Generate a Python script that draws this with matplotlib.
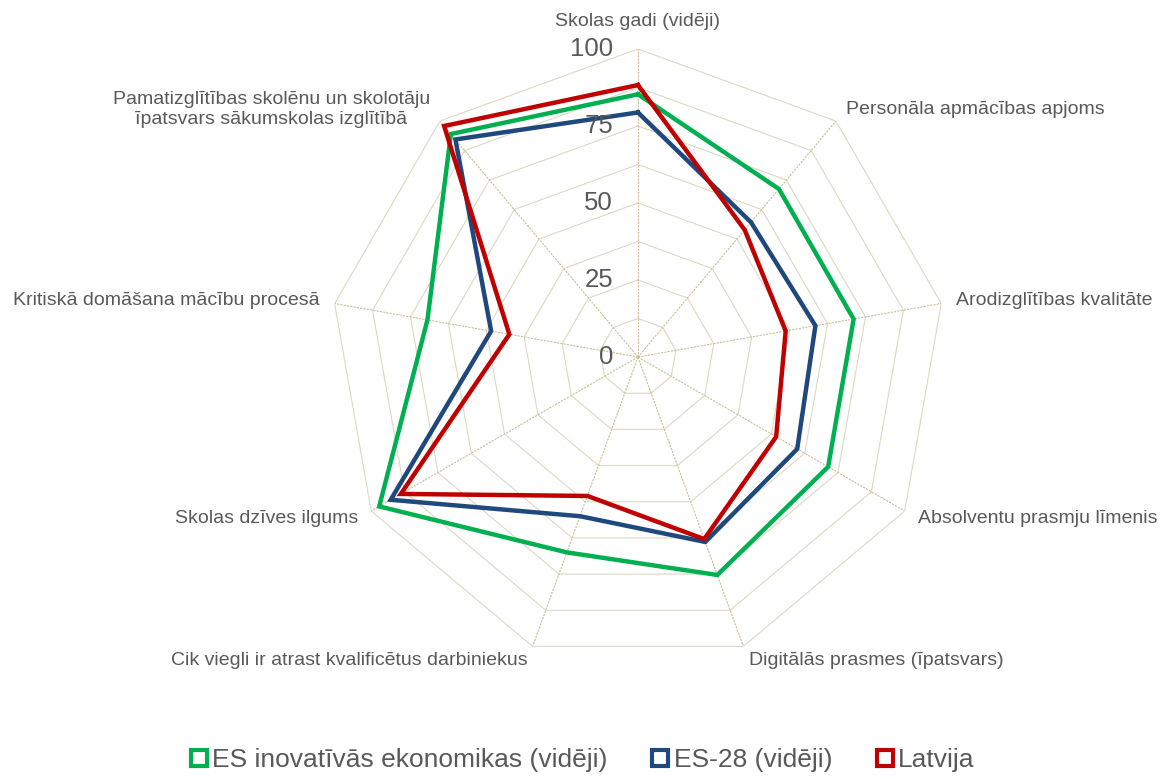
import numpy as np
import matplotlib
matplotlib.use("Agg")
import matplotlib.pyplot as plt
from matplotlib.lines import Line2D

"""
DATA
"""
categories = ['Skolas gadi (vidēji)',
              'Personāla apmācības apjoms',
              'Arodizglītības kvalitāte',
              'Absolventu prasmju līmenis',
              'Digitālās prasmes (īpatsvars)',
              'Cik viegli ir atrast kvalificētus darbiniekus',
              'Skolas dzīves ilgums',
              'Kritiskā domāšana mācību procesā',
              'Pamatizglītības skolēnu un skolotāju\nīpatsvars sākumskolas izglītībā']

es_inov = [85.3, 71.2, 71.1, 71.3, 75.3, 67.5, 97.0, 69.4, 94.5]
es_28 = [79.4, 57.1, 58.5, 59.7, 63.9, 55.0, 92.7, 48.4, 92.2]
latvija = [88.3, 53.9, 48.7, 51.8, 62.9, 48.0, 88.9, 42.4, 97.9]

series_names = ['ES inovatīvās ekonomikas (vidēji)', 'ES-28 (vidēji)', 'Latvija']
series_colors = ['#00b050', '#1f497d', '#c00000']
radial_ticks = [0, 25, 50, 75, 100]

"""
CONFIGURATION
"""
plt.rcParams['font.family'] = ['Liberation Sans', 'DejaVu Sans']
txt_color = '#595959'
ring_color = '#ddd8c2'
spoke_color = '#cbbf98'


def main():
    fig = plt.figure(figsize=(11.63, 7.79), dpi=100)
    ax = fig.add_axes([0.2837, 0.1463, 0.5297, 0.7908], projection='polar')
    ax.set_theta_zero_location('N')
    ax.set_theta_direction(-1)
    ax.set_ylim(0, 100)
    ax.grid(False)
    ax.spines['polar'].set_visible(False)
    ax.set_xticks([])
    ax.set_yticks([])

    n = len(categories)
    angles = np.linspace(0, 2 * np.pi, n, endpoint=False)
    closed = np.append(angles, angles[0])

    # polygon rings every 12.5
    for lvl in np.arange(12.5, 100.1, 12.5):
        ax.plot(closed, [lvl] * (n + 1), color=ring_color, lw=0.8, zorder=1)
    # spokes
    for a in angles:
        ax.plot([a, a], [0, 100], color=spoke_color, lw=0.8, ls=(0, (2, 1)), zorder=1)

    # data
    for vals, col in zip([es_inov, es_28, latvija], series_colors):
        ax.plot(closed, vals + vals[:1], color=col, lw=3.2, zorder=3,
                solid_joinstyle='miter')

    # radial labels
    for t in radial_ticks:
        ax.annotate(str(t), xy=(0, t), xytext=(-18, 0), textcoords='offset points',
                    ha='right', va='center', fontsize=18.5, color=txt_color)

    # category labels
    for a, lab in zip(angles, categories):
        deg = np.degrees(a)
        if deg < 1:
            ax.text(a, 109, lab, ha='center', va='center', fontsize=14, color=txt_color)
        else:
            ha = 'left' if deg < 180 else 'right'
            ax.text(a, 105, lab, ha=ha, va='center', fontsize=14, color=txt_color,
                    multialignment='center', linespacing=1.2)

    handles = [Line2D([], [], ls='none', marker='s', markersize=11,
                      markerfacecolor='white', markeredgecolor=c, markeredgewidth=3)
               for c in series_colors]
    fig.legend(handles, series_names, loc='lower center', bbox_to_anchor=(0.5, -0.022),
               ncol=3, frameon=False, fontsize=19, labelcolor=txt_color,
               handletextpad=0.1, columnspacing=1.6, handlelength=0.8)

    fig.savefig('out.png', dpi=100)


if __name__ == "__main__":
    main()
